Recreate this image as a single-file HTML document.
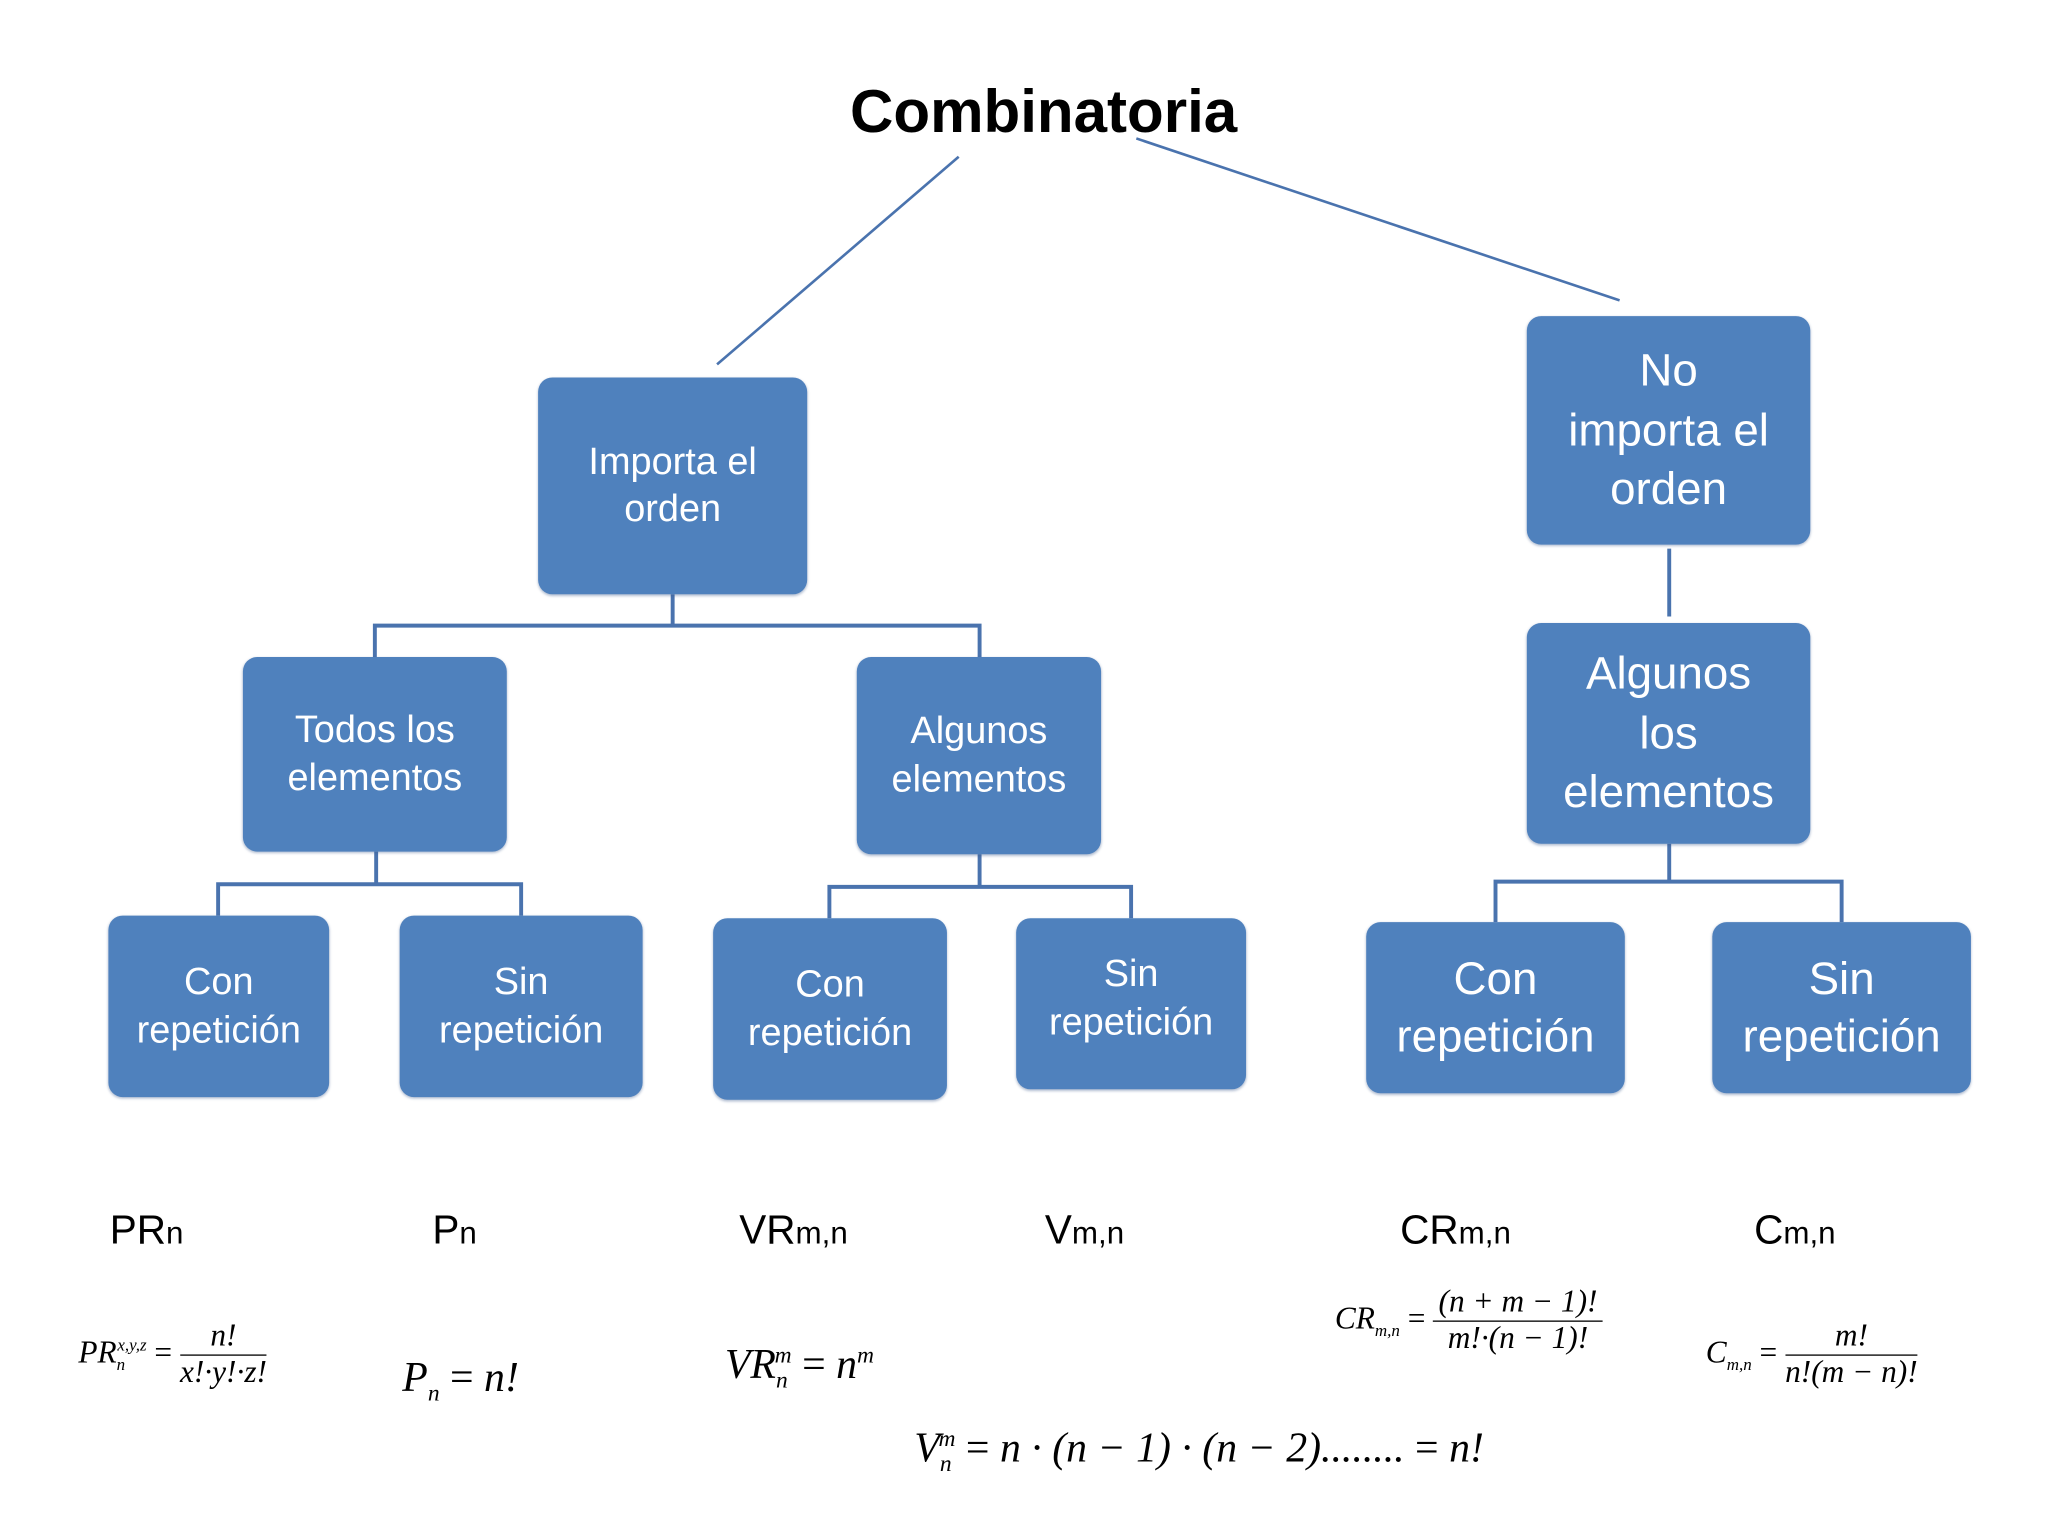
<!DOCTYPE html>
<html><head><meta charset="utf-8"><style>
html,body{margin:0;padding:0;background:#fff;}
#w{position:absolute;left:0;top:0;width:1568px;height:1176px;transform:scale(1.30612);transform-origin:0 0;overflow:hidden;}
.b{position:absolute;background:#4f81bd;border-radius:11px;color:#fff;font-family:"Liberation Sans",sans-serif;display:flex;align-items:center;justify-content:center;text-align:center;line-height:1.25;box-shadow:0 1px 2px rgba(60,90,140,0.4);}
.s{font-size:29px;}
.l{font-size:35px;}
.t{position:absolute;font-family:"Liberation Sans",sans-serif;color:#000;}
.lab{position:absolute;font-family:"Liberation Sans",sans-serif;font-size:31px;color:#000;}
.lab small{font-size:24px;}
.f{position:absolute;font-family:"Liberation Serif",serif;font-style:italic;color:#000;white-space:nowrap;}
.fr{display:inline-block;vertical-align:middle;text-align:center;}
.fr span{display:block;}
.fr .n{border-bottom:1.5px solid #000;padding:0 4px;}
</style></head><body><div id="w">
<svg width="1568" height="1176" style="position:absolute;left:0;top:0" fill="none" stroke="#4a73ae" stroke-width="3">
<line x1="734" y1="120" x2="549" y2="279" stroke-width="2"/>
<line x1="870" y1="106" x2="1240" y2="230" stroke-width="2"/>
<polyline points="515,455 515,479"/>
<polyline points="287,503 287,479 750,479 750,503"/>
<polyline points="288,652 288,677"/>
<polyline points="167,701 167,677 399,677 399,701"/>
<polyline points="750,654 750,679"/>
<polyline points="635,703 635,679 866,679 866,703"/>
<polyline points="1278,420 1278,472"/>
<polyline points="1278,646 1278,675"/>
<polyline points="1145,706 1145,675 1410,675 1410,706"/>
</svg>
<div class="t" style="left:640px;top:58px;width:318px;text-align:center;font-size:46px;font-weight:bold;">Combinatoria</div>
<div class="b s" style="left:412px;top:289px;width:206px;height:166px;">Importa el<br>orden</div>
<div class="b l" style="left:1169px;top:242px;width:217px;height:175px;line-height:1.3;">No<br>importa el<br>orden</div>
<div class="b s" style="left:186px;top:503px;width:202px;height:149px;">Todos los<br>elementos</div>
<div class="b s" style="left:656px;top:503px;width:187px;height:151px;">Algunos<br>elementos</div>
<div class="b l" style="left:1169px;top:477px;width:217px;height:169px;line-height:1.3;">Algunos<br>los<br>elementos</div>
<div class="b s" style="left:83px;top:701px;width:169px;height:139px;">Con<br>repetición</div>
<div class="b s" style="left:306px;top:701px;width:186px;height:139px;">Sin<br>repetición</div>
<div class="b s" style="left:546px;top:703px;width:179px;height:139px;">Con<br>repetición</div>
<div class="b s" style="left:778px;top:703px;width:176px;height:131px;padding-bottom:8px;box-sizing:border-box;">Sin<br>repetición</div>
<div class="b l" style="left:1046px;top:706px;width:198px;height:131px;">Con<br>repetición</div>
<div class="b l" style="left:1311px;top:706px;width:198px;height:131px;">Sin<br>repetición</div>
<div class="lab" style="left:84px;top:924px;">PR<small>n</small></div>
<div class="lab" style="left:331px;top:924px;">P<small>n</small></div>
<div class="lab" style="left:566px;top:924px;">VR<small>m,n</small></div>
<div class="lab" style="left:800px;top:924px;">V<small>m,n</small></div>
<div class="lab" style="left:1072px;top:924px;">CR<small>m,n</small></div>
<div class="lab" style="left:1343px;top:924px;">C<small>m,n</small></div>
<div class="f" style="left:60px;top:1010px;font-size:24px;">PR<sub style="font-size:13px">n</sub><sup style="font-size:13px;margin-left:-6px">x,y,z</sup> <span style="font-style:normal">=</span> <span class="fr"><span class="n">n!</span><span>x!·y!·z!</span></span></div>
<div class="f" style="left:308px;top:1036px;font-size:32px;">P<sub style="font-size:18px">n</sub> <span style="font-style:normal">=</span> n!</div>
<div class="f" style="left:555px;top:1026px;font-size:32px;">VR<sub style="font-size:18px">n</sub><sup style="font-size:18px;margin-left:-10px">m</sup> <span style="font-style:normal">=</span> n<sup style="font-size:18px">m</sup></div>
<div class="f" style="left:1022px;top:984px;font-size:24px;">CR<sub style="font-size:13px">m,n</sub> <span style="font-style:normal">=</span> <span class="fr"><span class="n">(n + m − 1)!</span><span>m!·(n − 1)!</span></span></div>
<div class="f" style="left:1306px;top:1010px;font-size:24px;">C<sub style="font-size:13px">m,n</sub> <span style="font-style:normal">=</span> <span class="fr"><span class="n">m!</span><span>n!(m − n)!</span></span></div>
<div class="f" style="left:700px;top:1090px;font-size:32px;">V<sub style="font-size:18px">n</sub><sup style="font-size:18px;margin-left:-10px">m</sup> <span style="font-style:normal">=</span> n · (n − 1) · (n − 2)........ <span style="font-style:normal">=</span> n!</div>
</div></body></html>
